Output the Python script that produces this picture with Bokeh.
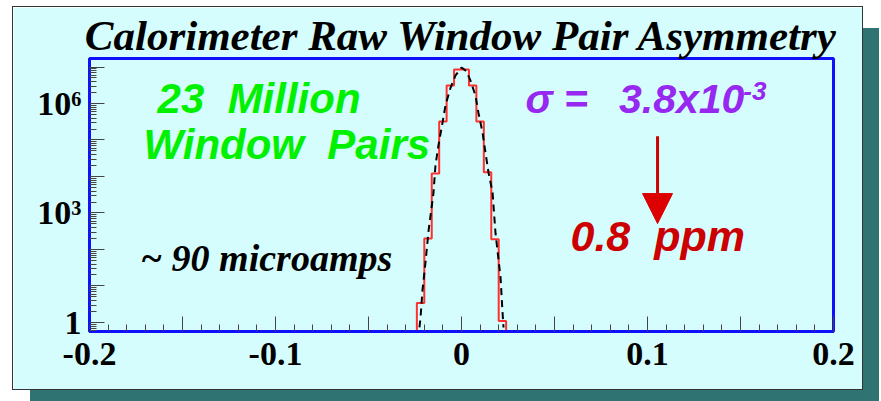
import numpy as np
from bokeh.plotting import figure
from bokeh.models import FixedTicker, Label, Arrow, NormalHead, Range1d
from bokeh.embed import file_html
from bokeh.resources import INLINE

# ---------------- data ----------------
title_text = "Calorimeter Raw Window Pair Asymmetry"
bin_edges = [-0.024, -0.020, -0.016, -0.012, -0.008, -0.004, 0.0,
             0.004, 0.008, 0.012, 0.016, 0.020, 0.024]
bin_counts = [3.4, 200, 1.2e4, 3.2e5, 3.1e6, 8.5e6,
              8.5e6, 3.1e6, 3.2e5, 1.3e4, 190, 1.1]
fit_x = [-0.0226, -0.0220, -0.0210, -0.0194, -0.0177, -0.0151, -0.0140,
         -0.0124, -0.0102, -0.0086, -0.0059, -0.0032, 0.0, 0.0025, 0.0048,
         0.0075, 0.0091, 0.0113, 0.0129, 0.0145, 0.0167, 0.0183, 0.0210,
         0.0220, 0.0226]
fit_y = [0.73, 1.4, 7.5, 42, 330, 3.4e3, 2.0e4,
         7.1e4, 3.0e5, 8.9e5, 2.7e6, 5.9e6, 9.7e6, 7.8e6, 4.3e6,
         1.66e6, 5.6e5, 1.6e5, 4.5e4, 1.3e4, 3.6e3, 275, 17,
         2.1, 0.73]
x_ticks = [-0.2, -0.15, -0.1, -0.05, 0.0, 0.05, 0.1, 0.15, 0.2]
x_tick_labels = ["-0.2", "", "-0.1", "", "0", "", "0.1", "", "0.2"]
y_ticks = [1, 10, 100, 1e3, 1e4, 1e5, 1e6, 1e7]
y_tick_labels = ["1", "", "", "10\u00b3", "", "", "10\u2076", ""]

NB = "\u00a0"
annot_count = ["23" + NB + " Million", "Window" + NB + " Pairs"]
annot_beam = "~ 90 microamps"
annot_sigma = "\u03c3 =" + NB + "\u2009 3.8x10"
annot_sigma_exp = "-3"
annot_ppm = "0.8" + NB + " ppm"

# ---------------- figure ----------------
x_lo, x_hi = -0.2, 0.2
y_lo, y_hi = 0.566, 1.71e7
panel_bg = "#d5fdfd"

p = figure(width=849, height=382,
           x_range=Range1d(x_lo, x_hi), y_range=Range1d(y_lo, y_hi),
           y_axis_type="log", output_backend="svg", toolbar_location=None,
           min_border_left=76, min_border_right=29,
           min_border_top=51, min_border_bottom=58,
           background_fill_color=panel_bg, border_fill_color=panel_bg,
           outline_line_color="#1010ff", outline_line_width=3)
p.margin = (7, 0, 0, 13)
p.styles = {"box-shadow": "17px 21px 0px 0px #2f7373",
            "outline": "1px solid #333333"}

p.title.text = title_text
p.title.align = "center"
p.title.text_font = "Liberation Serif"
p.title.text_font_style = "bold italic"
p.title.text_font_size = "43px"
p.title.text_color = "black"
p.title.standoff = 0

p.grid.visible = False

# x axis
p.xaxis.ticker = FixedTicker(ticks=x_ticks,
                             minor_ticks=list(np.round(np.linspace(-0.2, 0.2, 41), 3)))
p.xaxis.major_label_overrides = dict(zip(x_ticks, x_tick_labels))
# y axis
minor_y = [m * 10.0 ** d for d in range(-1, 8) for m in range(2, 10)]
p.yaxis.ticker = FixedTicker(ticks=y_ticks, minor_ticks=minor_y)
p.yaxis.major_label_overrides = dict(zip([float(t) for t in y_ticks], y_tick_labels))

for ax in (p.xaxis[0], p.yaxis[0]):
    ax.axis_line_color = "#1010ff"
    ax.axis_line_width = 3
    ax.major_tick_in = 15
    ax.major_tick_out = 0
    ax.minor_tick_in = 7
    ax.minor_tick_out = 0
    ax.major_tick_line_color = "#444444"
    ax.minor_tick_line_color = "#444444"
    ax.major_label_text_font = "Liberation Serif"
    ax.major_label_text_font_style = "bold"
    ax.major_label_text_font_size = "34px"
    ax.major_label_text_color = "black"
p.xaxis.major_label_standoff = 11
p.yaxis.major_label_standoff = 8

# histogram as a step outline
step_x = [x_lo, bin_edges[0]]
step_y = [y_lo, y_lo]
for i, c in enumerate(bin_counts):
    step_x += [bin_edges[i], bin_edges[i + 1]]
    step_y += [c, c]
step_x += [bin_edges[-1], x_hi]
step_y += [y_lo, y_lo]
p.line(step_x, step_y, line_color="#ff3030", line_width=2)

# fitted gaussian (dashed)
p.line(fit_x, fit_y, line_color="black", line_width=2, line_dash="7 5")

# annotations
green = "#00f000"
sans = "Liberation Sans"
p.add_layout(Label(x=-0.1634, y=10 ** 5.48, text=annot_count[0], text_color=green,
                   text_font=sans, text_font_style="bold italic", text_font_size="42px"))
p.add_layout(Label(x=-0.171, y=10 ** 4.22, text=annot_count[1], text_color=green,
                   text_font=sans, text_font_style="bold italic", text_font_size="42px"))
p.add_layout(Label(x=-0.1726, y=10 ** 1.2, text=annot_beam, text_color="black",
                   text_font="Liberation Serif", text_font_style="bold italic",
                   text_font_size="38px"))
purple = "#9628f0"
p.add_layout(Label(x=0.0344, y=10 ** 5.48, text=annot_sigma, text_color=purple,
                   text_font=sans, text_font_style="bold italic", text_font_size="41px"))
p.add_layout(Label(x=0.1515, y=10 ** 6.1, text=annot_sigma_exp, text_color=purple,
                   text_font=sans, text_font_style="bold italic", text_font_size="26px"))
p.add_layout(Label(x=0.0586, y=10 ** 1.70, text=annot_ppm, text_color="#cc0000",
                   text_font=sans, text_font_style="bold italic", text_font_size="43px"))
p.add_layout(Arrow(x_start=0.1054, y_start=10 ** 5.1, x_end=0.1054, y_end=10 ** 2.71,
                   line_color="#cc0000", line_width=3,
                   end=NormalHead(size=30, fill_color="#dd0000", line_color="#dd0000")))

open("out.html", "w").write(file_html(p, INLINE))
